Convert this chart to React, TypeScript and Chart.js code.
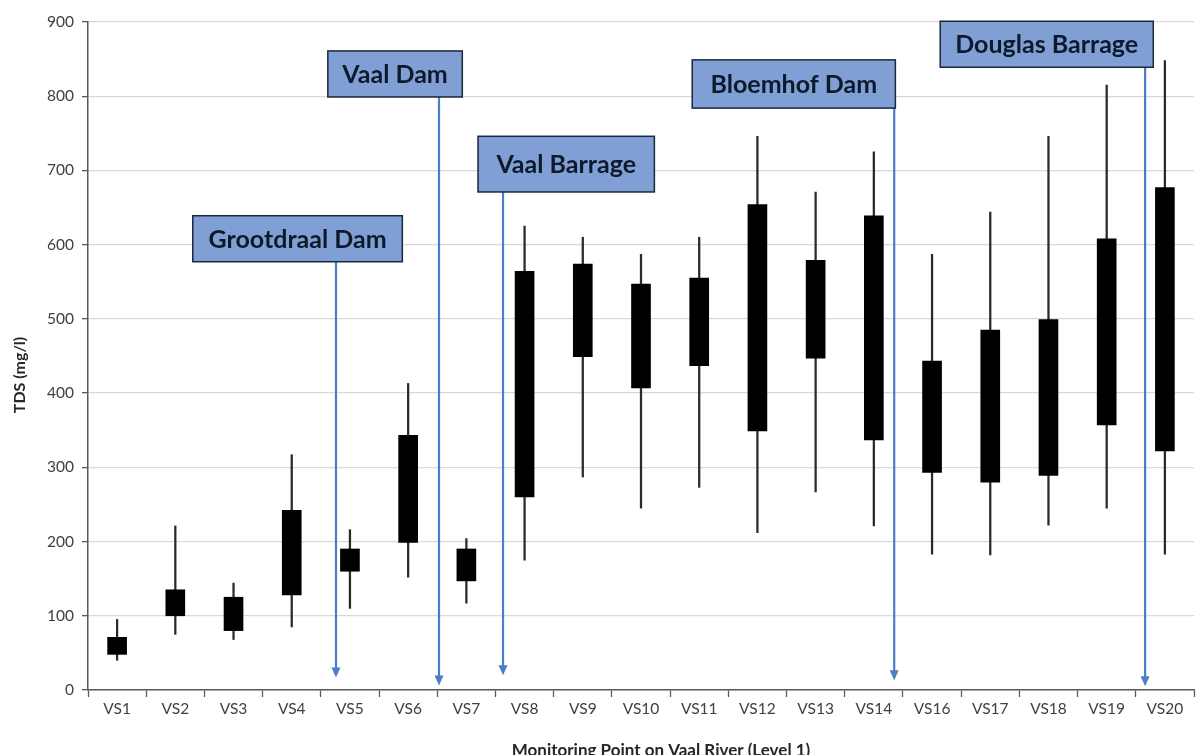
import React, { useEffect, useRef } from "react";
import { Chart, registerables } from "chart.js";

Chart.register(...registerables);

// ---- Data ----
const categories = [
  "VS1", "VS2", "VS3", "VS4", "VS5", "VS6", "VS7", "VS8", "VS9", "VS10",
  "VS11", "VS12", "VS13", "VS14", "VS16", "VS17", "VS18", "VS19", "VS20",
];
const whiskerLow = [40, 75, 68, 85, 110, 152, 117, 175, 287, 245, 273, 212, 267, 221, 183, 182, 222, 245, 183];
const boxLow = [48, 100, 80, 128, 160, 199, 147, 260, 449, 407, 437, 349, 447, 337, 293, 280, 289, 357, 322];
const boxHigh = [71, 135, 125, 242, 190, 343, 190, 564, 574, 547, 555, 654, 579, 639, 443, 485, 499, 608, 677];
const whiskerHigh = [95, 221, 144, 317, 216, 413, 204, 625, 610, 587, 610, 746, 671, 725, 587, 644, 746, 815, 848];

const yTickValues = [0, 100, 200, 300, 400, 500, 600, 700, 800, 900];

// Annotation callouts (text), anchored in data units (category index / TDS value)
const calloutLabels = ["Grootdraal Dam", "Vaal Dam", "Vaal Barrage", "Bloemhof Dam", "Douglas Barrage"];
const calloutLeft = [1.3, 3.62, 6.2, 9.88, 14.14];
const calloutRight = [4.9, 5.93, 9.23, 13.37, 17.8];
const calloutTop = [639, 861, 746, 849, 901];
const calloutBottom = [577, 799, 671, 784, 839];
const arrowAt = [3.76, 5.53, 6.63, 13.35, 17.66];
const arrowTip = [17, 6, 20, 13, 5];

const yTitle = "TDS (mg/l)";
const xTitle = "Monitoring Point on Vaal River (Level 1)";

const FONT = "Lato, 'Open Sans', 'DejaVu Sans', sans-serif";

const calloutPlugin = {
  id: "callouts",
  afterDatasetsDraw(chart: any) {
    const { ctx, scales } = chart;
    const xs = scales.x;
    const ys = scales.y;
    const x0 = xs.getPixelForValue(0);
    const step = xs.getPixelForValue(1) - x0;
    const px = (i: number) => x0 + i * step;
    ctx.save();
    // arrows
    for (let k = 0; k < calloutLabels.length; k++) {
      const ax = px(arrowAt[k]);
      const yStart = ys.getPixelForValue(calloutBottom[k]);
      const yEnd = ys.getPixelForValue(arrowTip[k]);
      ctx.strokeStyle = "#4a7ec6";
      ctx.fillStyle = "#4a7ec6";
      ctx.lineWidth = 2.2;
      ctx.beginPath();
      ctx.moveTo(ax, yStart);
      ctx.lineTo(ax, yEnd - 8);
      ctx.stroke();
      ctx.beginPath();
      ctx.moveTo(ax - 4.5, yEnd - 10);
      ctx.lineTo(ax + 4.5, yEnd - 10);
      ctx.lineTo(ax, yEnd);
      ctx.closePath();
      ctx.fill();
    }
    // boxes
    for (let k = 0; k < calloutLabels.length; k++) {
      const l = px(calloutLeft[k]);
      const r = px(calloutRight[k]);
      const t = ys.getPixelForValue(calloutTop[k]);
      const b = ys.getPixelForValue(calloutBottom[k]);
      ctx.fillStyle = "#7f9fd5";
      ctx.fillRect(l, t, r - l, b - t);
      ctx.strokeStyle = "#1c2738";
      ctx.lineWidth = 1.5;
      ctx.strokeRect(l, t, r - l, b - t);
      ctx.fillStyle = "#0e1a2c";
      ctx.font = `bold 25px ${FONT}`;
      ctx.textAlign = "center";
      ctx.textBaseline = "middle";
      ctx.fillText(calloutLabels[k], (l + r) / 2, (t + b) / 2 + 1);
    }
    ctx.restore();
  },
};

const titlePlugin = {
  id: "axisTitles",
  afterDraw(chart: any) {
    const { ctx, chartArea } = chart;
    ctx.save();
    ctx.fillStyle = "#262626";
    ctx.font = `bold 16px ${FONT}`;
    ctx.textAlign = "center";
    ctx.textBaseline = "middle";
    ctx.translate(20, (chartArea.top + chartArea.bottom) / 2 + 19);
    ctx.rotate(-Math.PI / 2);
    ctx.fillText(yTitle, 0, 0);
    ctx.restore();
    ctx.save();
    ctx.fillStyle = "#262626";
    ctx.font = `bold 17px ${FONT}`;
    ctx.textAlign = "center";
    ctx.textBaseline = "alphabetic";
    ctx.fillText(xTitle, (chartArea.left + chartArea.right) / 2 + 20, chartArea.bottom + 66);
    ctx.restore();
  },
};

export default function App() {
  const ref = useRef<HTMLCanvasElement>(null);
  useEffect(() => {
    const canvas = ref.current;
    if (!canvas) return;
    const chart = new Chart(canvas, {
      type: "bar",
      data: {
        labels: categories,
        datasets: [
          {
            label: "Min–Max",
            data: categories.map((_, i) => [whiskerLow[i], whiskerHigh[i]]) as any,
            backgroundColor: "#2a2a2a",
            borderWidth: 0,
            barThickness: 1.6,
            grouped: false,
            order: 2,
          } as any,
          {
            label: "Interquartile",
            data: categories.map((_, i) => [boxLow[i], boxHigh[i]]) as any,
            backgroundColor: "#000000",
            borderWidth: 0,
            barThickness: 19,
            grouped: false,
            order: 1,
          } as any,
        ],
      },
      options: {
        responsive: false,
        animation: false,
        devicePixelRatio: 1,
        layout: { padding: { left: 0, right: 6, top: 22, bottom: 0 } },
        plugins: {
          legend: { display: false },
          tooltip: { enabled: false },
          title: { display: false },
        },
        scales: {
          x: {
            type: "category",
            offset: true,
            grid: {
              display: true,
              offset: true,
              drawOnChartArea: false,
              drawTicks: true,
              tickLength: 7,
              tickColor: "#595959",
              tickWidth: 1.3,
            },
            border: { display: true, color: "#595959", width: 1.5 },
            ticks: {
              color: "#404040",
              font: { family: FONT, size: 15.5 },
              padding: 3,
              maxRotation: 0,
              autoSkip: false,
            },
            afterFit: (s: any) => {
              s.height = 65;
            },
          },
          y: {
            min: 0,
            max: 900,
            afterBuildTicks: (s: any) => {
              s.ticks = yTickValues.map((v) => ({ value: v }));
            },
            grid: {
              color: "#d9d9d9",
              lineWidth: 1.3,
              drawTicks: true,
              tickLength: 6,
              tickColor: "#595959",
            },
            border: { display: true, color: "#595959", width: 1.5 },
            ticks: {
              color: "#404040",
              font: { family: FONT, size: 15.5 },
              padding: 8,
            },
            afterFit: (s: any) => {
              s.width = 88;
            },
          },
        },
      } as any,
      plugins: [calloutPlugin, titlePlugin],
    });
    return () => chart.destroy();
  }, []);

  return (
    <div style={{ position: "absolute", left: 0, top: 0, width: 1200, height: 755, background: "#fff" }}>
      <canvas ref={ref} width={1200} height={755} style={{ display: "block" }} />
    </div>
  );
}
